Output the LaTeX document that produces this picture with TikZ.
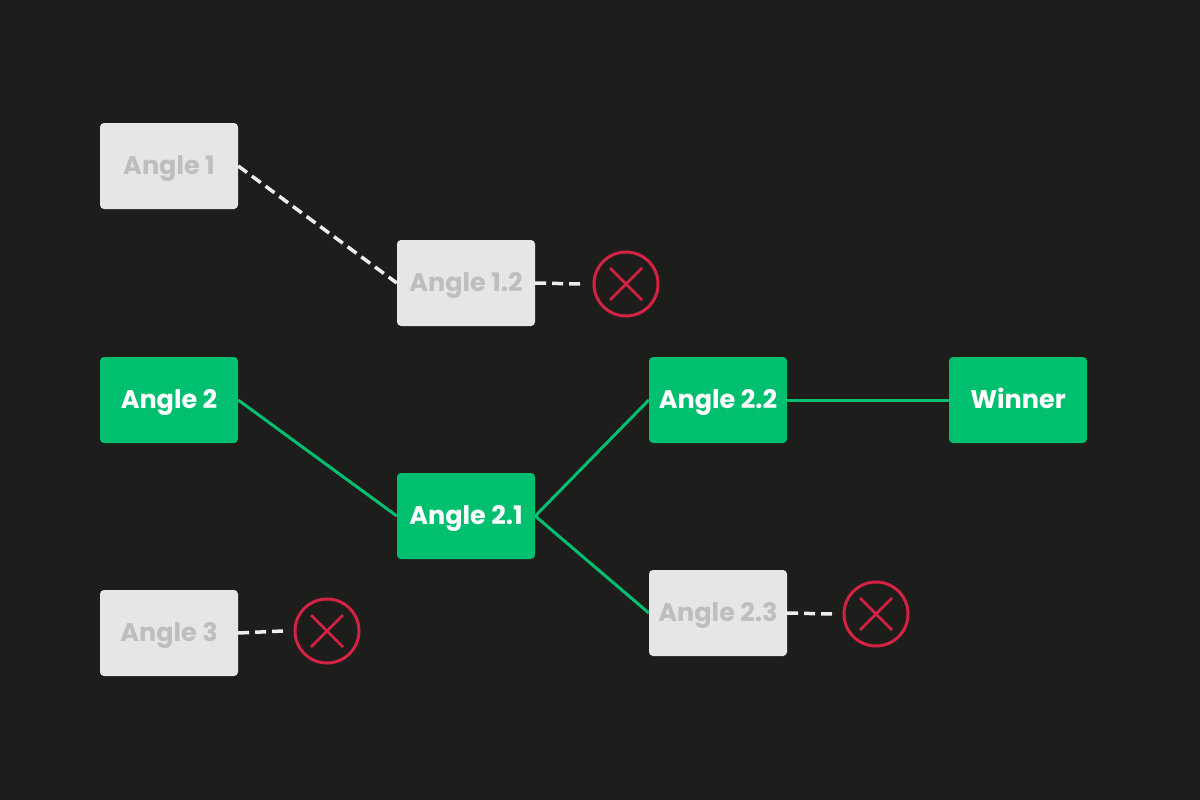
\documentclass[tikz,border=0pt]{standalone}
\usepackage{fontspec}
\setmainfont{Poppins}[BoldFont={* Bold}]
\definecolor{bg}{HTML}{1D1E1C}
\definecolor{boxgray}{HTML}{E6E6E8}
\definecolor{txtgray}{HTML}{BEBEC0}
\definecolor{grn}{HTML}{00BF6F}
\definecolor{redx}{HTML}{D42242}
\definecolor{dashw}{HTML}{EDEDED}
\tikzset{
  basebox/.style={rectangle, rounded corners=4pt, minimum width=138pt, minimum height=86pt, inner sep=0pt, text height=17pt, text depth=0pt, font=\fontsize{25.5}{30}\selectfont\bfseries},
  gbox/.style={basebox, fill=boxgray, text=txtgray},
  wbox/.style={basebox, fill=grn, text=white},
  dashlink/.style={draw=dashw, line width=3.5pt, dash pattern=on 11pt off 6pt},
  glink/.style={draw=grn, line width=3pt},
  reject/.style={circle, draw=redx, line width=3pt, minimum size=64pt, inner sep=0pt},
}
\newcommand{\xmark}[1]{%
  \draw[redx, line width=2.5pt] ($(#1)+(-16pt,16pt)$) -- ($(#1)+(16pt,-16pt)$);
  \draw[redx, line width=2.5pt] ($(#1)+(-16pt,-16pt)$) -- ($(#1)+(16pt,16pt)$);}
\usetikzlibrary{calc}
\begin{document}
\begin{tikzpicture}[x=1pt,y=-1pt]
\fill[bg] (0,0) rectangle (1200,800);
\useasboundingbox (0,0) rectangle (1200,800);
\node[gbox] (a1) at (169,166) {Angle 1};
\node[gbox] (a12) at (466,283) {Angle 1.2};
\node[wbox] (a2) at (169,400) {Angle 2};
\node[wbox] (a21) at (466,516) {Angle 2.1};
\node[wbox] (a22) at (718,400) {Angle 2.2};
\node[wbox] (win) at (1018,400) {Winner};
\node[gbox] (a3) at (169,633) {Angle 3};
\node[gbox] (a23) at (718,613) {Angle 2.3};
\node[reject] (r1) at (626,284) {};
\node[reject] (r3) at (327,631) {};
\node[reject] (r23) at (876,614) {};
\xmark{r1}\xmark{r3}\xmark{r23}
\coordinate (e1) at (581,284);
\coordinate (e3) at (283,631);
\coordinate (e23) at (832,614);
\draw[dashlink] (a1.east) -- (a12.west);
\draw[dashlink] (a12.east) -- (e1);
\draw[dashlink] (a3.east) -- (e3);
\draw[dashlink] (a23.east) -- (e23);
\draw[glink] (a2.east) -- (a21.west);
\draw[glink] (a21.east) -- (a22.west);
\draw[glink] (a21.east) -- (a23.west);
\draw[glink] (a22.east) -- (win.west);
\end{tikzpicture}
\end{document}
